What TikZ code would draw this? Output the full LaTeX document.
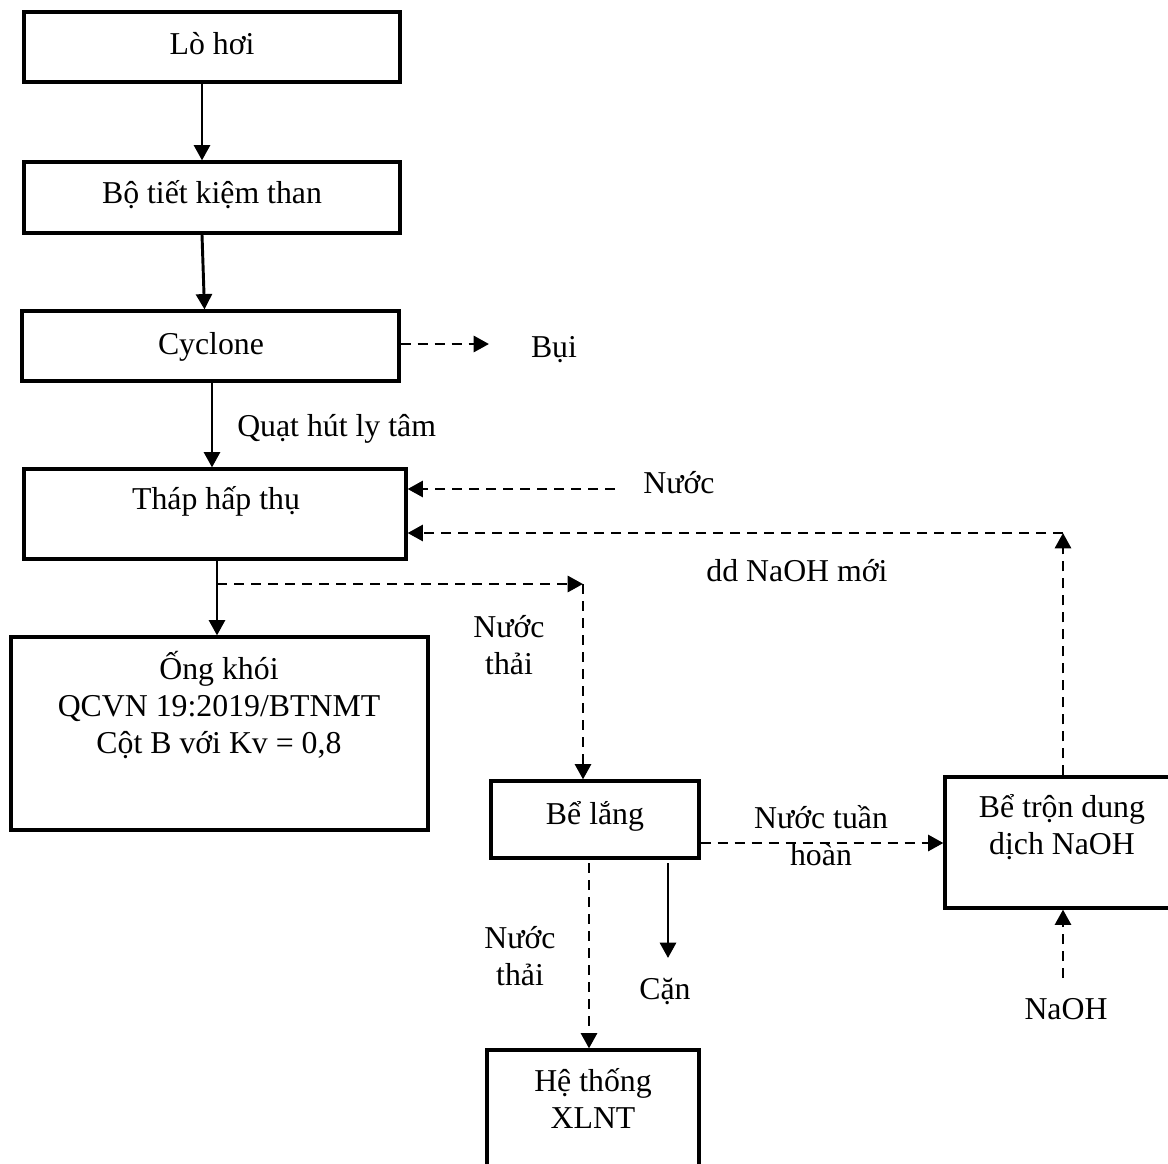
\documentclass[tikz,border=0pt]{standalone}
\usepackage{fontspec}
\setmainfont{Liberation Serif}
\usetikzlibrary{arrows.meta,calc,fit}
\begin{document}
\begin{tikzpicture}[x=0.75pt,y=-0.75pt,
  every node/.style={font=\fontsize{23.85pt}{27.5pt}\selectfont},
  box/.style={draw, line width=2.4pt, inner sep=0pt},
  txt/.style={inner sep=0pt, anchor=base, align=center},
  flow/.style={line width=2.2pt, -{Triangle[length=11.5pt,width=12pt]}},
  side/.style={flow, dash pattern=on 7.5pt off 5.25pt},
]
\useasboundingbox (0,0) rectangle (1168,1164);
\clip (0,0) rectangle (1168,1164);

% process boxes
\node[box, fit={(24,12) (400,82)}]    (lohoi)   {};
\node[box, fit={(24,162) (400,233)}]  (bo)      {};
\node[box, fit={(22,311) (399,381)}]  (cyc)     {};
\node[box, fit={(24,469) (406,559)}]  (thap)    {};
\node[box, fit={(11,637) (428,830)}]  (ongkhoi) {};
\node[box, fit={(491,781) (699,858)}] (belang)  {};
\node[box, fit={(945,777) (1185,908)}] (betron) {};
\node[box, fit={(487,1050) (699,1190)}] (he)    {};

% box texts (multi-line nodes sit on the baseline of their last line)
\node[txt] (lohoi-t)   at (212,54)  {Lò hơi};
\node[txt] (bo-t)      at (212,203) {Bộ tiết kiệm than};
\node[txt] (cyc-t)     at (211,354) {Cyclone};
\node[txt] (thap-t)    at (216,509) {Tháp hấp thụ};
\node[txt] (ongkhoi-t) at (219,753) {Ống khói\\QCVN 19:2019/BTNMT\\Cột B với Kv = 0,8};
\node[txt] (belang-t)  at (595,824) {Bể lắng};
\node[txt] (betron-t)  at (1062,854) {Bể trộn dung\\dịch NaOH};
\node[txt] (he-t)      at (593,1128) {Hệ thống\\XLNT};

% stream labels
\node[txt] (bui)     at (554,357)  {Bụi};
\node[txt, anchor=base west] (quat) at (237,436) {Quạt hút ly tâm};
\node[txt] (nuoc)    at (679,493)  {Nước};
\node[txt] (ddnaoh)  at (797,581)  {dd NaOH mới};
\node[txt] (thai1)   at (509,674)  {Nước\\thải};
\node[txt] (tuan)    at (821,865)  {Nước tuần\\hoàn};
\node[txt] (thai2)   at (520,985)  {Nước\\thải};
\node[txt] (can)     at (665,999)  {Cặn};
\node[txt] (naoh)    at (1066,1019) {NaOH};

% main gas line
\draw[flow] ($(lohoi.south)+(-10,0)$) -- ($(bo.north)+(-10,0)$);
\draw[flow] ($(bo.south)+(-10,0)$) -- ($(cyc.north)+(-6,0)$);
\draw[flow] ($(cyc.south)+(1.5,0)$) -- ($(cyc.south |- thap.north)+(1.5,0)$);

% dust out of the cyclone
\coordinate (bui-end) at (489,344);
\draw[side] (cyc.east |- bui-end) -- (bui-end);

% water into the tower
\coordinate (nuoc-in) at (615,489);
\draw[side] (nuoc-in) -- (nuoc-in -| thap.east);

% tower outlets
\coordinate (j1) at (217,584);
\coordinate (j2) at (583,584);
\draw[flow] (j1 |- thap.south) -- (j1 |- ongkhoi.north);
\draw[side] (j1) -- (j2);
\draw[side] (j2) -- (j2 |- belang.north);

% recirculation
\coordinate (r1) at (700,843);
\draw[side] (belang.east |- r1) -- (r1 -| betron.west);

% fresh NaOH solution back to the tower
\coordinate (c1) at (1063,533);
\draw[side] (betron.north -| c1) -- (c1);
\draw[side] (c1) -- (c1 -| thap.east);

% NaOH make-up
\coordinate (naoh-out) at (1063,978);
\draw[side] (naoh-out) -- (naoh-out |- betron.south);

% settler outlets
\coordinate (w1) at (589,863);
\draw[side] (w1) -- (w1 |- he.north);
\coordinate (s1) at (668,958);
\draw[flow] (s1 |- w1) -- (s1);
\end{tikzpicture}
\end{document}
